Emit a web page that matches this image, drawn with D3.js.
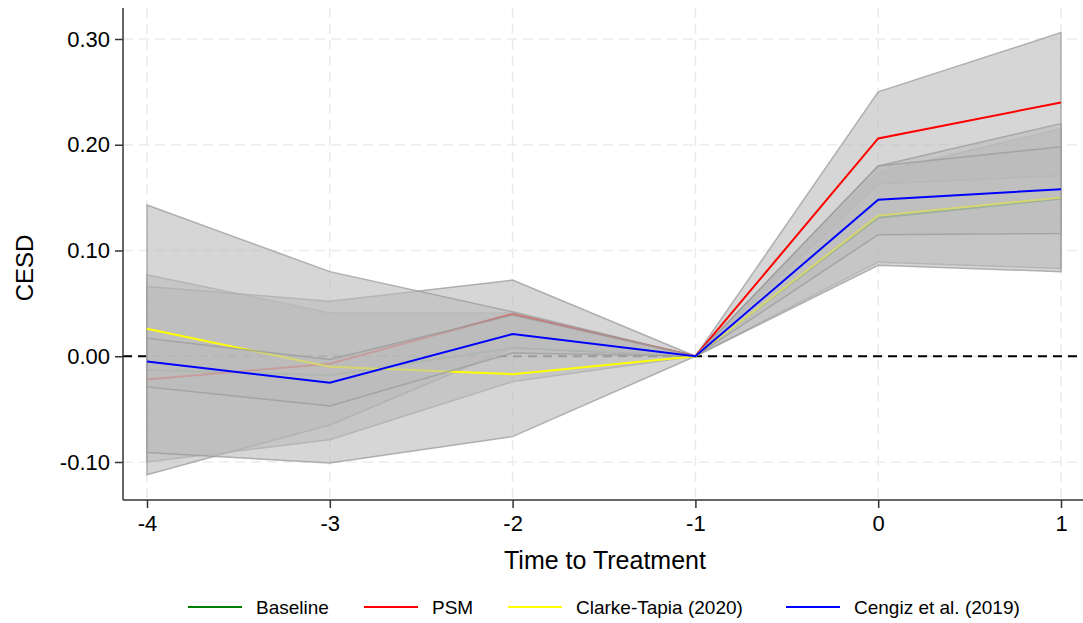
<!DOCTYPE html>
<html>
<head>
<meta charset="utf-8">
<script src="https://cdn.jsdelivr.net/npm/d3@7"></script>
<style>
	body { margin: 0; background: #fff; }
	text { font-family: "Liberation Sans", Arial, sans-serif; fill: #000; }
</style>
</head>
<body>
<svg id="chart" width="1083" height="623"></svg>
<script>
var periods = [-4, -3, -2, -1, 0, 1];
var yTicks = [-0.1, 0, 0.1, 0.2, 0.3];

var baseline   = [-0.013, -0.018, 0.008, 0, 0.131, 0.149];
var baselineLo = [-0.100, -0.079, -0.024, 0, 0.089, 0.083];
var baselineHi = [0.077, 0.041, 0.041, 0, 0.174, 0.215];

var psm   = [-0.022, -0.007, 0.040, 0, 0.206, 0.240];
var psmLo = [-0.112, -0.065, 0.008, 0, 0.163, 0.171];
var psmHi = [0.066, 0.052, 0.072, 0, 0.250, 0.306];

var clarke   = [0.026, -0.010, -0.017, 0, 0.133, 0.150];
var clarkeLo = [-0.091, -0.101, -0.076, 0, 0.086, 0.080];
var clarkeHi = [0.143, 0.080, 0.042, 0, 0.180, 0.220];

var cengiz   = [-0.005, -0.025, 0.021, 0, 0.148, 0.158];
var cengizLo = [-0.029, -0.047, 0.003, 0, 0.115, 0.116];
var cengizHi = [0.017, -0.003, 0.039, 0, 0.180, 0.198];

var seriesNames = ["Baseline", "PSM", "Clarke-Tapia (2020)", "Cengiz et al. (2019)"];
var seriesColors = ["#008000", "#ff0000", "#ffff00", "#0000ff"];

function series() {
	return [
		{name: seriesNames[0], color: seriesColors[0], est: baseline, lo: baselineLo, hi: baselineHi},
		{name: seriesNames[1], color: seriesColors[1], est: psm, lo: psmLo, hi: psmHi},
		{name: seriesNames[2], color: seriesColors[2], est: clarke, lo: clarkeLo, hi: clarkeHi},
		{name: seriesNames[3], color: seriesColors[3], est: cengiz, lo: cengizLo, hi: cengizHi}
	];
}

var svg = d3.select("#chart"),
	frame = {left: 123, right: 1083, top: 8, bottom: 500};

var x = d3.scaleLinear()
	.domain([-4, 1])
	.range([147, 1061]);

var y = d3.scaleLinear()
	.domain([-0.1, 0.3])
	.range([462, 39]);

// stata style labels use a plain hyphen
var fmtY = d => d3.format(".2f")(d).replace("\u2212", "-");
var fmtX = d => d3.format("d")(d).replace("\u2212", "-");

// grid
svg.append("g").selectAll("line")
	.data(yTicks)
	.enter().append("line")
	.attr("x1", frame.left).attr("x2", frame.right)
	.attr("y1", d => y(d)).attr("y2", d => y(d))
	.attr("stroke", "#ececec")
	.attr("stroke-width", 1.5)
	.attr("stroke-dasharray", "10,6");

svg.append("g").selectAll("line")
	.data(periods)
	.enter().append("line")
	.attr("x1", d => x(d)).attr("x2", d => x(d))
	.attr("y1", frame.top).attr("y2", frame.bottom)
	.attr("stroke", "#ececec")
	.attr("stroke-width", 1.5)
	.attr("stroke-dasharray", "10,6");

svg.append("line")
	.attr("x1", frame.left).attr("x2", frame.right)
	.attr("y1", y(0)).attr("y2", y(0))
	.attr("stroke", "#000")
	.attr("stroke-width", 2)
	.attr("stroke-dasharray", "9,6");

var area = d3.area()
	.x(d => x(d.t))
	.y0(d => y(d.lo))
	.y1(d => y(d.hi));

var line = d3.line()
	.x(d => x(d.t))
	.y(d => y(d.v));

series().forEach(function(s) {
	var pts = periods.map((t, i) => ({t: t, v: s.est[i], lo: s.lo[i], hi: s.hi[i]}));
	svg.append("path")
		.datum(pts)
		.attr("d", d => area(d) + "Z")
		.attr("fill", "rgb(186,186,186)")
		.attr("fill-opacity", 0.6)
		.attr("stroke", "rgb(155,155,155)")
		.attr("stroke-opacity", 0.75)
		.attr("stroke-width", 1.5);
	svg.append("path")
		.datum(pts)
		.attr("d", line)
		.attr("fill", "none")
		.attr("stroke", s.color)
		.attr("stroke-width", 2);
});

// axes
var yAxis = svg.append("g")
	.attr("transform", `translate(${frame.left},0)`)
	.call(d3.axisLeft(y).tickValues(yTicks).tickSize(8).tickPadding(5).tickFormat(fmtY));
yAxis.select(".domain").remove();
yAxis.append("line")
	.attr("y1", frame.top).attr("y2", frame.bottom)
	.attr("stroke", "#333").attr("stroke-width", 1.5);
yAxis.selectAll(".tick line").attr("stroke", "#333").attr("stroke-width", 1.5);
yAxis.selectAll(".tick text").style("font-size", "22px").attr("fill", "#000");

var xAxis = svg.append("g")
	.attr("transform", `translate(0,${frame.bottom})`)
	.call(d3.axisBottom(x).tickValues(periods).tickSize(8).tickPadding(7).tickFormat(fmtX));
xAxis.select(".domain").remove();
xAxis.append("line")
	.attr("x1", frame.left).attr("x2", frame.right)
	.attr("stroke", "#333").attr("stroke-width", 1.5);
xAxis.selectAll(".tick line").attr("stroke", "#333").attr("stroke-width", 1.5);
xAxis.selectAll(".tick text").style("font-size", "22px").attr("fill", "#000");

svg.append("text")
	.attr("x", 605)
	.attr("y", 569)
	.attr("text-anchor", "middle")
	.style("font-size", "25px")
	.text("Time to Treatment");

svg.append("text")
	.attr("transform", "translate(33,268) rotate(-90)")
	.attr("text-anchor", "middle")
	.style("font-size", "24px")
	.text("CESD");

// legend
var legendX = [188, 364, 508, 786];
var legend = svg.append("g").selectAll("g")
	.data(series())
	.enter().append("g")
	.attr("transform", (d, i) => `translate(${legendX[i]},607)`);

legend.append("line")
	.attr("x1", 0).attr("x2", 54)
	.attr("stroke", d => d.color)
	.attr("stroke-width", 2);

legend.append("text")
	.attr("x", 68)
	.attr("dy", "0.35em")
	.style("font-size", "19px")
	.text(d => d.name);
</script>
</body>
</html>
